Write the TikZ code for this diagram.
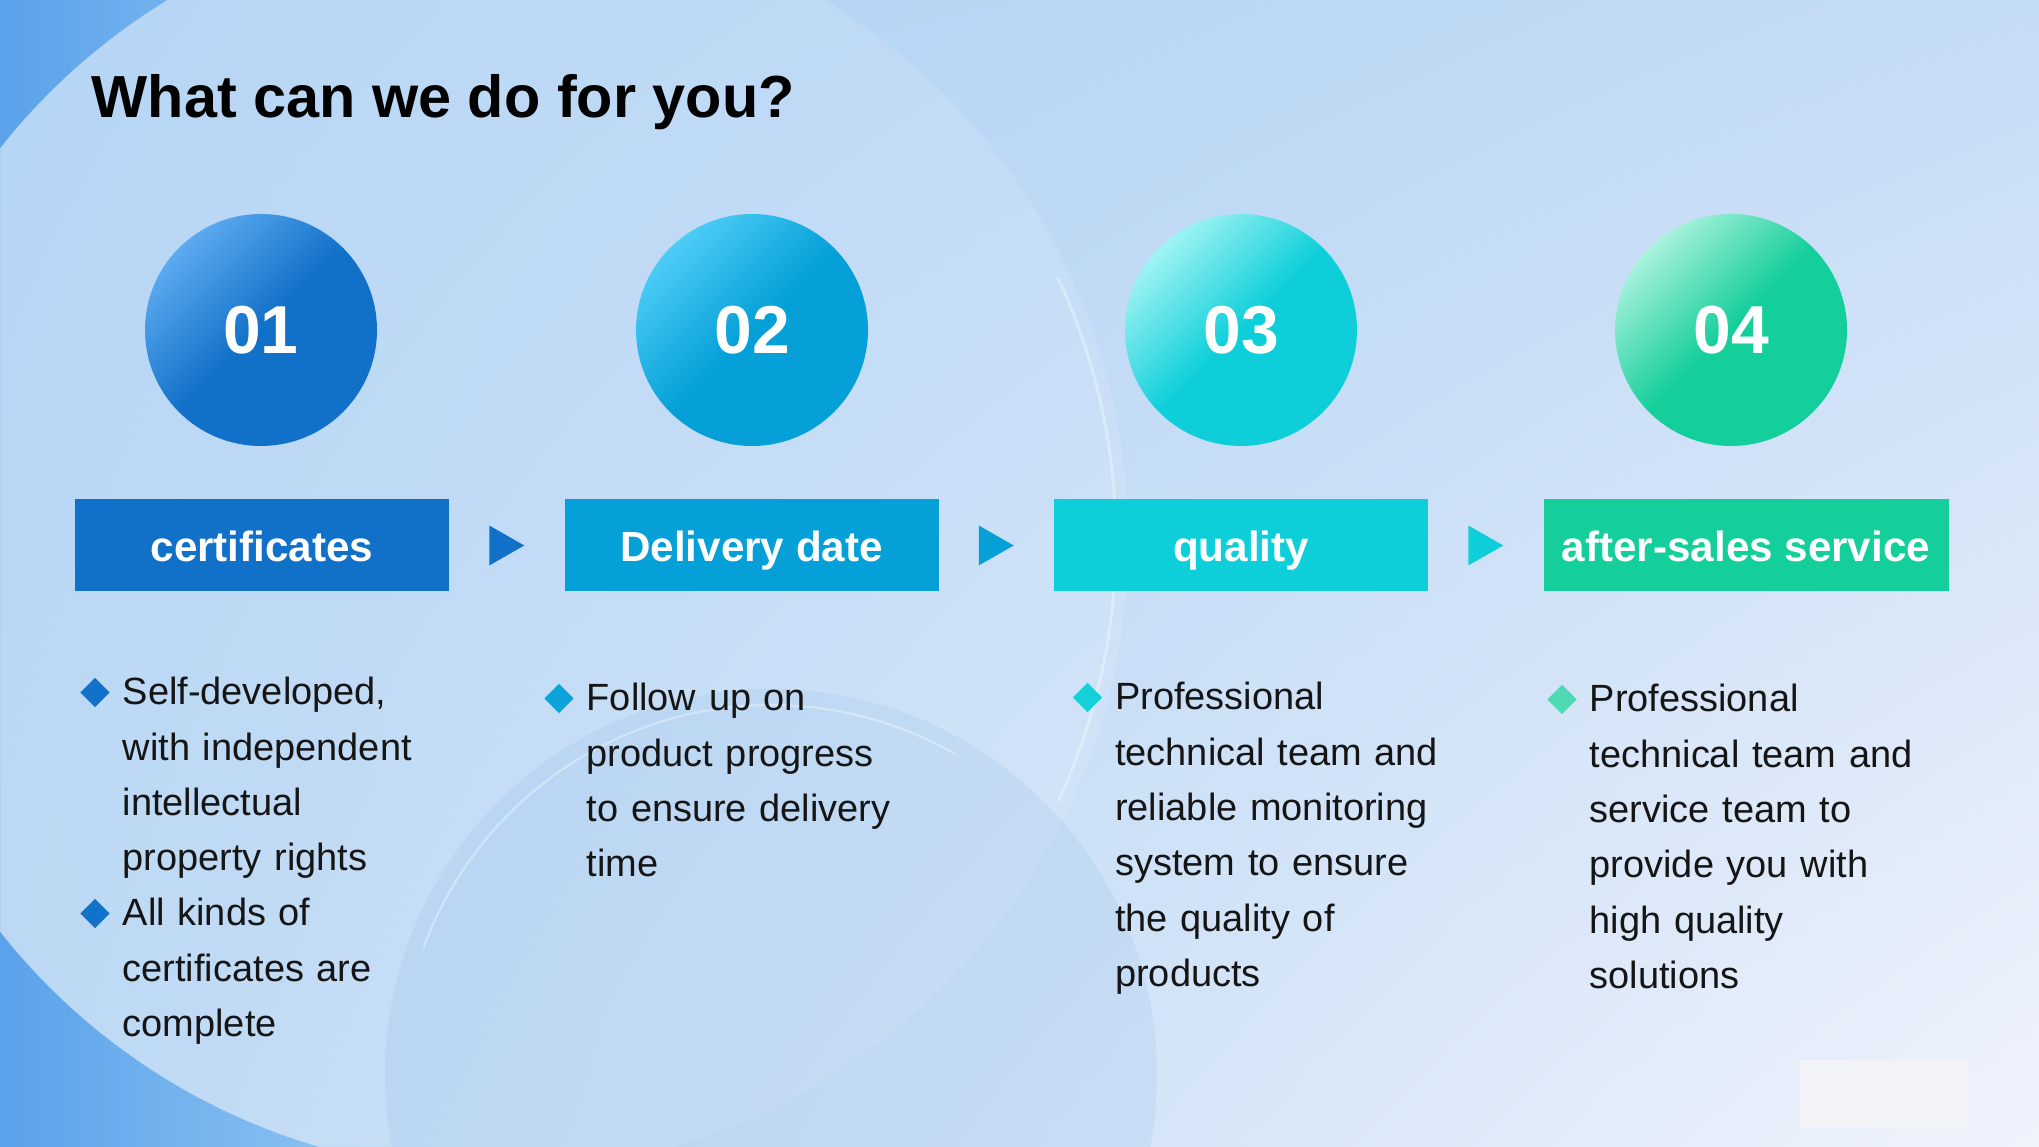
\documentclass[tikz,border=0pt]{standalone}
\usepackage{fontspec}
\setmainfont{Liberation Sans}
\usetikzlibrary{calc,positioning,shapes.geometric,shadings}
\definecolor{aL}{HTML}{5DAAF0}
\definecolor{aD}{HTML}{1170C8}
\definecolor{aM}{HTML}{1272C9}
\definecolor{bL}{HTML}{4CCDF6}
\definecolor{bD}{HTML}{05A0D8}
\definecolor{bM}{HTML}{0BA3DA}
\definecolor{cL}{HTML}{A0F3F3}
\definecolor{cD}{HTML}{0ECFD9}
\definecolor{cM}{HTML}{15CFD9}
\definecolor{dL}{HTML}{A8F2DC}
\definecolor{dD}{HTML}{14CE9B}
\definecolor{dM}{HTML}{4FDAB4}
\definecolor{bgtl}{HTML}{ACD0F4}
\definecolor{bgtr}{HTML}{C5DCF5}
\definecolor{bgbl}{HTML}{B4D4F3}
\definecolor{bgbr}{HTML}{F0F3FC}
\definecolor{deep}{HTML}{5AA2EA}
\definecolor{deepL}{HTML}{93C7F3}
\definecolor{ring}{HTML}{7FB0E6}
\definecolor{patch}{HTML}{F2F3F6}
\definecolor{ink}{HTML}{151515}
\tikzset{
  num/.style={circle,minimum size=2.32cm,inner sep=0,text=white,font=\fontsize{19.3}{22}\selectfont\bfseries},
  lab/.style={minimum width=3.74cm,minimum height=0.92cm,inner sep=0,outer sep=0,text=white,text height=0.42cm,text depth=0.09cm,font=\fontsize{12}{14}\selectfont\bfseries},
  txt/.style={anchor=base west,inner sep=0,text width=5cm,align=left,text=ink,font=\fontsize{10.8}{15.73}\selectfont},
  dia/.style={diamond,minimum size=0.30cm,inner sep=0}
}
\begin{document}
\begin{tikzpicture}
\def\W{20.39}
\def\H{11.47}
\useasboundingbox (0,0) rectangle (\W,\H);
\begin{scope}
  \clip (0,0) rectangle (\W,\H);
  \shade[upper left=bgtl,upper right=bgtr,lower left=bgbl,lower right=bgbr] (0,0) rectangle (\W,\H);
  \begin{scope}[even odd rule]
    \clip (0,0) rectangle (\W,\H) (4.96,6.07) circle (6.32);
    \shade[left color=deep,right color=deepL] (0,0) rectangle (4,\H);
  \end{scope}
  \fill[white,opacity=.12] (4.96,6.07) circle (6.32);
  \fill[ring,opacity=.14] (7.71,0.72) circle (3.86);
  \draw[white,opacity=.35,line width=0.6pt] (7.71,0.72) ++(160:3.7) arc (160:60:3.7);
  \draw[white,opacity=.35,line width=0.8pt] (4.96,6.07) ++(25:6.2) arc (25:-25:6.2);
  \fill[patch] (18.00,0.19) rectangle (19.68,0.87);
\end{scope}

\node[anchor=base west,inner sep=0,font=\fontsize{16.9}{20}\selectfont\bfseries] (title) at (0.91,10.29) {What can we do for you?};

\foreach \i/\x/\lt/\dk in {1/2.61/aL/aD,2/7.52/bL/bD,3/12.41/cL/cD,4/17.31/dL/dD}
  \node[num,top color=\lt,bottom color=\dk,middle color=\dk,shading angle=45] (c\i) at (\x,8.17) {0\i};

\node[lab,fill=aD] (b1) at (2.62,6.015) {certificates};
\node[lab,fill=bD,right=1.155cm of b1] (b2) {Delivery date};
\node[lab,fill=cD,right=1.155cm of b2] (b3) {quality};
\node[lab,fill=dD,right=1.155cm of b3,minimum width=4.05cm] (b4) {after-sales service};
\foreach \a/\b/\cl in {b1/b2/aD,b2/b3/bD,b3/b4/cD}
  \fill[\cl] ($(\a.east)!.5!(\b.west)$) +(-0.175,0.2) -- +(0.175,0) -- +(-0.175,-0.2) -- cycle;

\node[txt] (t1) at (1.22,4.42) {Self-developed,\\with independent\\intellectual\\property rights};
\node[txt] (t2) at (1.22,2.21) {All kinds of\\certificates are\\complete};
\node[txt] (t3) at (5.86,4.36) {Follow up on\\product progress\\to ensure delivery\\time};
\node[txt] (t4) at (11.145,4.37) {Professional\\technical team and\\reliable monitoring\\system to ensure\\the quality of\\products};
\node[txt] (t5) at (15.89,4.35) {Professional\\technical team and\\service team to\\provide you with\\high quality\\solutions};
\foreach \t/\cl in {t1/aM,t2/aM,t3/bM,t4/cM,t5/dM}
  \node[dia,fill=\cl] (d\t) at ($(\t.base west)+(-0.27,0.125)$) {};
\end{tikzpicture}
\end{document}
